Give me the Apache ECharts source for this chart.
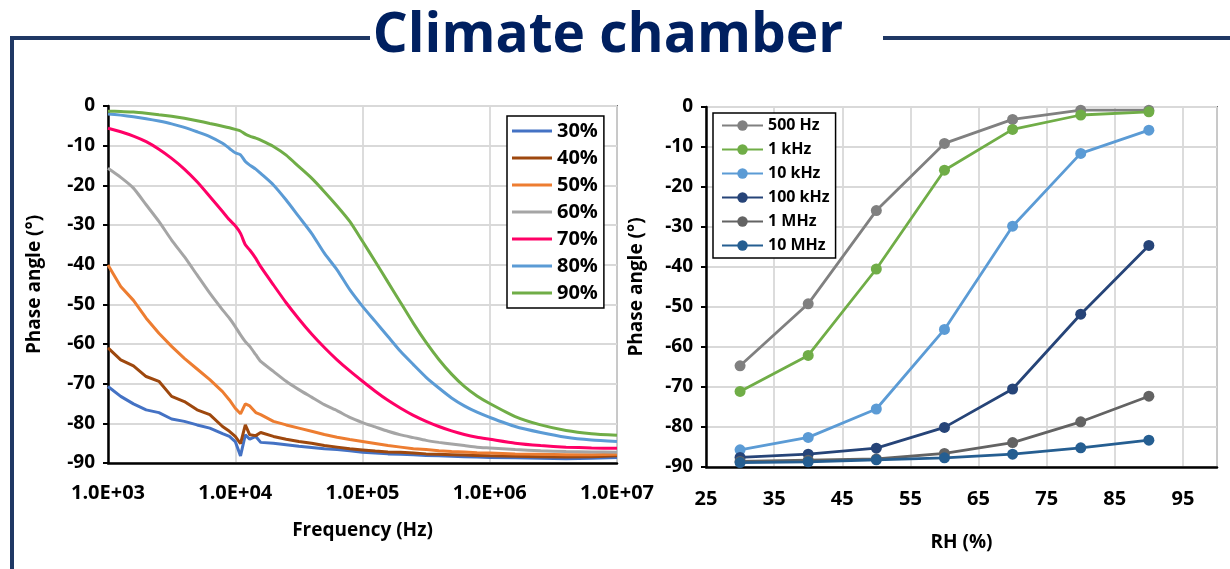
<!DOCTYPE html>
<html><head><meta charset="utf-8">
<script src="https://cdn.jsdelivr.net/npm/echarts@6/dist/echarts.min.js"></script>
<style>html,body{margin:0;padding:0;background:#fff}#c{width:1230px;height:569px}</style>
</head><body><div id="c"></div>
<script>
// ---------- DATA ----------
const freqHz = [1000, 1259, 1585, 1995, 2512, 3162, 3981, 5012, 6310, 7943,
  9000, 10000, 11000, 12000, 13000, 14500,
  15849, 19953, 25119, 31623, 39811, 50119, 63096, 79433,
  100000, 125893, 158489, 199526, 251189, 316228, 398107, 501187, 630957, 794328,
  1000000, 1584893, 2511886, 3981072, 6309573, 10000000];
const freqTickLabels = ['1.0E+03', '1.0E+04', '1.0E+05', '1.0E+06', '1.0E+07'];
const rhNames = ['30%', '40%', '50%', '60%', '70%', '80%', '90%'];
const phase30 = [-70.7,-73.2,-75.1,-76.6,-77.3,-78.9,-79.5,-80.4,-81.2,-82.6,
  -83.3,-84.6,-88.2,-82.9,-84.0,-83.3,
  -84.8,-85.0,-85.4,-85.8,-86.1,-86.4,-86.6,-86.9,
  -87.3,-87.5,-87.7,-87.8,-87.9,-88.1,-88.2,-88.3,-88.4,-88.5,
  -88.6,-88.7,-88.8,-88.9,-88.8,-88.6];
const phase40 = [-61.0,-64.0,-65.5,-68.2,-69.4,-73.2,-74.5,-76.6,-77.8,-80.8,
  -82.0,-83.3,-85.1,-80.4,-82.9,-83.1,
  -82.3,-83.3,-84.0,-84.6,-85.0,-85.6,-86.0,-86.4,
  -86.7,-87.0,-87.2,-87.3,-87.5,-87.7,-87.8,-87.9,-88.0,-88.1,
  -88.2,-88.3,-88.4,-88.5,-88.4,-88.2];
const phase50 = [-40.1,-45.5,-49.0,-53.5,-57.3,-60.6,-63.6,-66.3,-69.0,-72.0,
  -74.1,-76.2,-77.6,-75.1,-75.6,-77.3,
  -77.8,-79.5,-80.4,-81.2,-82.0,-82.8,-83.5,-84.1,
  -84.6,-85.1,-85.6,-86.0,-86.4,-86.6,-86.9,-87.1,-87.2,-87.4,
  -87.5,-87.7,-87.8,-87.9,-87.9,-87.8];
const phase60 = [-15.7,-18.0,-20.7,-24.9,-29.1,-33.8,-38.0,-42.6,-47.2,-51.4,
  -53.5,-55.6,-57.7,-59.4,-60.6,-62.7,
  -64.4,-66.9,-69.4,-71.5,-73.4,-75.3,-76.8,-78.5,
  -79.8,-80.9,-82.0,-82.9,-83.6,-84.3,-84.8,-85.2,-85.6,-86.0,
  -86.2,-86.6,-86.9,-87.1,-87.2,-87.3];
const phase70 = [-5.6,-6.5,-7.6,-9.0,-10.9,-13.2,-15.9,-19.1,-22.8,-26.6,
  -28.7,-30.2,-32.1,-35.0,-36.3,-38.4,
  -40.5,-45.1,-49.6,-53.7,-57.5,-60.9,-64.0,-66.8,
  -69.4,-71.9,-74.2,-76.2,-78.0,-79.5,-80.8,-81.9,-82.8,-83.5,
  -84.0,-85.0,-85.6,-86.0,-86.2,-86.3];
const phase80 = [-2.0,-2.3,-2.7,-3.2,-3.8,-4.5,-5.4,-6.5,-7.7,-9.4,
  -10.7,-11.8,-12.3,-14.0,-14.9,-15.9,
  -17.0,-19.9,-23.7,-27.9,-32.1,-37.1,-41.3,-46.3,
  -50.5,-54.3,-58.1,-61.9,-65.2,-68.4,-71.1,-73.6,-75.6,-77.2,
  -78.5,-80.8,-82.3,-83.5,-84.2,-84.6];
const phase90 = [-1.3,-1.4,-1.5,-1.8,-2.2,-2.6,-3.1,-3.7,-4.4,-5.1,
  -5.5,-5.9,-6.3,-7.1,-7.6,-8.1,
  -8.6,-10.2,-12.4,-15.3,-18.2,-21.6,-25.2,-29.1,
  -34.1,-39.2,-44.4,-49.6,-54.8,-59.6,-63.9,-67.6,-70.7,-73.1,
  -75.0,-78.3,-80.4,-81.8,-82.6,-83.0];

const rhValues = [30, 40, 50, 60, 70, 80, 90];
const freqNames = ['500 Hz', '1 kHz', '10 kHz', '100 kHz', '1 MHz', '10 MHz'];
const p500Hz  = [-64.7, -49.2, -25.9, -9.1, -3.1, -0.8, -0.8];
const p1kHz   = [-71.1, -62.1, -40.5, -15.8, -5.6, -2.0, -1.2];
const p10kHz  = [-85.7, -82.6, -75.5, -55.6, -29.8, -11.6, -5.8];
const p100kHz = [-87.6, -86.8, -85.3, -80.1, -70.5, -51.8, -34.6];
const p1MHz   = [-88.6, -88.3, -88.0, -86.6, -83.9, -78.7, -72.3];
const p10MHz  = [-88.9, -88.7, -88.2, -87.7, -86.8, -85.2, -83.3];

// ---------- STYLE ----------
const FONT = '"Open Sans", "Noto Sans", sans-serif';
const leftColors = ['#4472C4', '#9E480E', '#ED7D31', '#A5A5A5', '#FF0066', '#5B9BD5', '#70AD47'];
const leftSmooth = [0, 0, 0, 0.2, 0.2, 0.2, 0.2];
const rightColors = ['#808080', '#70AD47', '#5B9BD5', '#264478', '#636363', '#255E91'];
const leftData = [phase30, phase40, phase50, phase60, phase70, phase80, phase90];
const rightData = [p500Hz, p1kHz, p10kHz, p100kHz, p1MHz, p10MHz];

const txt = (size) => ({ fontFamily: FONT, fontWeight: 'bold', fontSize: size, color: '#000' });
const gridLine = { show: true, lineStyle: { color: '#d9d9d9', width: 1.8 } };
const axisBlack = { show: true, onZero: false, lineStyle: { color: '#000', width: 2.5 } };

const series = [];
rhNames.forEach((name, i) => series.push({
  name, type: 'line', xAxisIndex: 0, yAxisIndex: 0, symbol: 'none', animation: false,
  smooth: leftSmooth[i],
  data: freqHz.map((f, j) => [f, leftData[i][j]]),
  lineStyle: { width: 3, color: leftColors[i] }, itemStyle: { color: leftColors[i] }
}));
freqNames.forEach((name, i) => series.push({
  name, type: 'line', xAxisIndex: 1, yAxisIndex: 1, symbol: 'circle', symbolSize: 11, animation: false,
  data: rhValues.map((r, j) => [r, rightData[i][j]]),
  lineStyle: { width: 2.8, color: rightColors[i] }, itemStyle: { color: rightColors[i] }
}));

const chart = echarts.init(document.getElementById('c'));
chart.setOption({
  backgroundColor: '#fff',
  animation: false,
  grid: [
    { left: 108, top: 106, width: 509, height: 357, show: true, borderColor: '#000', borderWidth: 1.5, containLabel: false, outerBoundsMode: 'none' },
    { left: 706, top: 107, width: 511, height: 360, show: true, borderColor: '#000', borderWidth: 1.5, containLabel: false, outerBoundsMode: 'none' }
  ],
  xAxis: [
    { type: 'log', logBase: 10, gridIndex: 0, min: 1000, max: 10000000,
      axisLine: axisBlack, axisTick: { show: false }, splitLine: gridLine, minorSplitLine: { show: false },
      axisLabel: Object.assign(txt(20), { margin: 20, formatter: v => freqTickLabels[Math.round(Math.log10(v)) - 3] }),
      name: 'Frequency (Hz)', nameLocation: 'middle', nameGap: 58, nameTextStyle: txt(19) },
    { type: 'value', gridIndex: 1, min: 25, max: 100, interval: 10,
      axisLine: axisBlack, axisTick: { show: false }, splitLine: gridLine,
      axisLabel: Object.assign(txt(20), { margin: 22, formatter: v => (v >= 100 ? '' : String(v)) }),
      name: 'RH (%)', nameLocation: 'middle', nameGap: 66, nameTextStyle: txt(19) }
  ],
  yAxis: [
    { type: 'value', gridIndex: 0, min: -90, max: 0, interval: 10,
      axisLine: axisBlack, axisTick: { show: true, length: 5, lineStyle: { color: '#000', width: 2 } }, splitLine: gridLine,
      axisLabel: Object.assign(txt(19), { margin: 13 }),
      name: 'Phase angle (°)', nameLocation: 'middle', nameGap: 64, nameTextStyle: txt(19) },
    { type: 'value', gridIndex: 1, min: -90, max: 0, interval: 10,
      axisLine: axisBlack, axisTick: { show: true, length: 5, lineStyle: { color: '#000', width: 2 } }, splitLine: gridLine,
      axisLabel: Object.assign(txt(19), { margin: 13 }),
      name: 'Phase angle (°)', nameLocation: 'middle', nameGap: 60, nameTextStyle: txt(19) }
  ],
  legend: [
    { data: rhNames, orient: 'vertical', left: 507, top: 116, itemWidth: 40, itemHeight: 3, itemGap: 5,
      icon: 'rect',
      padding: [4, 6, 4, 5], borderColor: '#000', borderWidth: 1.5, backgroundColor: '#fff',
      textStyle: Object.assign(txt(20), { lineHeight: 22 }) },
    { data: freqNames, orient: 'vertical', left: 713, top: 113, itemWidth: 41, itemHeight: 13, itemGap: 5,
      padding: [3, 6, 3, 8], borderColor: '#000', borderWidth: 1.5, backgroundColor: '#fff',
      textStyle: Object.assign(txt(16), { lineHeight: 19 }) }
  ],
  graphic: [
    { type: 'line', shape: { x1: 10, y1: 38, x2: 370, y2: 38 }, style: { stroke: '#1F3864', lineWidth: 4 } },
    { type: 'line', shape: { x1: 12, y1: 36, x2: 12, y2: 569 }, style: { stroke: '#1F3864', lineWidth: 4 } },
    { type: 'line', shape: { x1: 883, y1: 38, x2: 1230, y2: 38 }, style: { stroke: '#1F3864', lineWidth: 4 } },
    { type: 'text', x: 608, y: 36, style: { text: 'Climate chamber', fontFamily: FONT, fontWeight: 'bold', fontSize: 55,
      fill: '#002060', align: 'center', verticalAlign: 'middle', textAlign: 'center', textVerticalAlign: 'middle' } }
  ],
  series
});
</script></body></html>
